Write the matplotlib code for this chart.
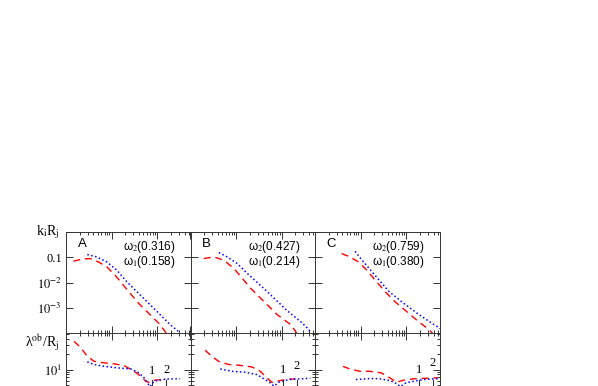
import numpy as np
import matplotlib.pyplot as plt
from matplotlib.ticker import LogLocator, NullFormatter

plt.rcParams['font.family'] = 'Liberation Sans'
plt.rcParams['mathtext.fontset'] = 'stix'

panels = ['A', 'B', 'C']
omega1 = [0.158, 0.214, 0.380]
omega2 = [0.316, 0.427, 0.759]

# upper row: k_i R_j   (red dashed = omega1 mode, blue dotted = omega2 mode)
ki_red_x_A = [0.00145, 0.00221, 0.00336, 0.00513, 0.00785, 0.0119, 0.0168, 0.0255, 0.0388, 0.0702, 0.116, 0.158]
ki_red_y_A = [0.0697, 0.0835, 0.089, 0.0654, 0.0417, 0.0197, 0.0093, 0.00377, 0.00153, 5.3e-4, 2.15e-4, 1.0e-4]
ki_blue_x_A = [0.00294, 0.00473, 0.00785, 0.0130, 0.0216, 0.0358, 0.0545, 0.0984, 0.193, 0.271, 0.316]
ki_blue_y_A = [0.128, 0.103, 0.0654, 0.0309, 0.0107, 0.00436, 0.00206, 7.2e-4, 2.15e-4, 1.3e-4, 1.0e-4]

ki_red_x_B = [0.00196, 0.00325, 0.0054, 0.00895, 0.0137, 0.0208, 0.0345, 0.0804, 0.158, 0.214]
ki_red_y_B = [0.089, 0.103, 0.0763, 0.0361, 0.0146, 0.00593, 0.0024, 5.3e-4, 2.15e-4, 1.0e-4]
ki_blue_x_B = [0.00419, 0.00641, 0.0106, 0.0176, 0.0317, 0.0573, 0.133, 0.262, 0.398, 0.427]
ki_blue_y_B = [0.153, 0.103, 0.0566, 0.023, 0.00873, 0.00324, 7.6e-4, 2.8e-4, 1.37e-4, 1.0e-4]

ki_red_x_C = [0.00386, 0.00588, 0.00895, 0.0137, 0.0208, 0.0345, 0.0573, 0.1035, 0.172, 0.285, 0.38]
ki_red_y_C = [0.14, 0.103, 0.0654, 0.0309, 0.0125, 0.00436, 0.00172, 7.0e-4, 3.2e-4, 1.58e-4, 1.0e-4]
ki_blue_x_C = [0.00757, 0.0101, 0.0154, 0.0255, 0.0423, 0.083, 0.193, 0.378, 0.53, 0.759]
ki_blue_y_C = [0.172, 0.089, 0.0361, 0.0125, 0.00436, 0.00164, 5.3e-4, 2.36e-4, 1.6e-4, 1.0e-4]

# lower row: lambda^ob / R_j
lam_red_x_A = [0.0015, 0.0021, 0.00294, 0.00412, 0.00684, 0.0114, 0.0188, 0.0313, 0.0439, 0.0565, 0.0667, 0.0859, 0.121, 0.158]
lam_red_y_A = [36.3, 27.3, 18.3, 14.6, 13.6, 13.0, 12.0, 9.25, 7.36, 5.86, 5.6, 6.14, 6.34, 6.55]
lam_blue_x_A = [0.00294, 0.00412, 0.00684, 0.0134, 0.0264, 0.0402, 0.0518, 0.0612, 0.07, 0.0859, 0.158, 0.316]
lam_blue_y_A = [14.2, 12.6, 11.6, 10.8, 10.3, 8.6, 6.86, 5.45, 4.6, 5.9, 6.5, 6.6]

lam_red_x_B = [0.0021, 0.00294, 0.00412, 0.00684, 0.0114, 0.0222, 0.034, 0.0475, 0.0612, 0.0789, 0.121, 0.2]
lam_red_y_B = [24.1, 18.3, 14.6, 12.6, 12.2, 11.3, 9.25, 6.86, 5.6, 5.86, 6.34, 6.55]
lam_blue_x_B = [0.0045, 0.0081, 0.0159, 0.0286, 0.0439, 0.0565, 0.068, 0.0859, 0.1425, 0.331, 0.427]
lam_blue_y_B = [10.3, 9.25, 8.85, 7.96, 6.34, 5.45, 4.7, 5.6, 6.34, 6.63, 6.7]

lam_red_x_C = [0.00412, 0.0058, 0.0096, 0.0159, 0.0286, 0.0439, 0.0612, 0.0859, 0.1425, 0.279, 0.505]
lam_red_y_C = [11.6, 10.3, 9.25, 9.25, 8.6, 6.86, 5.6, 6.14, 6.55, 6.73, 6.86]
lam_blue_x_C = [0.0079, 0.0159, 0.0251, 0.0439, 0.0612, 0.075, 0.1, 0.236, 0.505]
lam_blue_y_C = [6.34, 6.63, 6.63, 6.05, 5.28, 4.6, 5.5, 6.34, 6.63]

# markers "1" and "2" in the lower row
mark_x_A = [0.079, 0.158]
mark_x_B = [0.107, 0.214]
mark_x_C = [0.19, 0.38]
mark_lab_y_A = [9.3, 10.0]
mark_lab_y_B = [10.0, 11.6]
mark_lab_y_C = [10.0, 13.6]

ki_red = [(ki_red_x_A, ki_red_y_A), (ki_red_x_B, ki_red_y_B), (ki_red_x_C, ki_red_y_C)]
ki_blue = [(ki_blue_x_A, ki_blue_y_A), (ki_blue_x_B, ki_blue_y_B), (ki_blue_x_C, ki_blue_y_C)]
lam_red = [(lam_red_x_A, lam_red_y_A), (lam_red_x_B, lam_red_y_B), (lam_red_x_C, lam_red_y_C)]
lam_blue = [(lam_blue_x_A, lam_blue_y_A), (lam_blue_x_B, lam_blue_y_B), (lam_blue_x_C, lam_blue_y_C)]
marks = [(mark_x_A, mark_lab_y_A), (mark_x_B, mark_lab_y_B), (mark_x_C, mark_lab_y_C)]

fig = plt.figure(figsize=(5.98, 3.86), dpi=100)

W, H = 598.0, 386.0
left0, pw, ph = 66.0, 124.5, 101.0
top_y = 232.0
xlim = (1e-3, 0.54)
serif = 'Liberation Serif'


def style(ax):
    ax.set_xscale('log')
    ax.set_yscale('log')
    ax.set_xlim(*xlim)
    ax.tick_params(which='both', direction='in', top=True, right=True,
                   labelbottom=False, labelleft=False, width=0.7, color='#333333')
    ax.tick_params(which='major', length=5)
    ax.tick_params(which='minor', length=2.5)
    ax.xaxis.set_minor_locator(LogLocator(subs=np.arange(2, 10)))
    ax.yaxis.set_minor_locator(LogLocator(subs=np.arange(2, 10)))
    ax.xaxis.set_minor_formatter(NullFormatter())
    ax.yaxis.set_minor_formatter(NullFormatter())
    for s in ax.spines.values():
        s.set_linewidth(0.7)
        s.set_color('#333333')


for i in range(3):
    x0 = left0 + i * pw
    ax1 = fig.add_axes([x0 / W, (H - top_y - ph) / H, pw / W, ph / H])
    ax2 = fig.add_axes([x0 / W, (H - top_y - 2 * ph) / H, pw / W, ph / H])
    style(ax1)
    style(ax2)

    ax1.set_ylim(1e-4, 1)
    ax1.set_yticks([1e-4, 1e-3, 1e-2, 0.1, 1])
    ax2.set_ylim(0.53, 53)
    ax2.set_yticks([1, 10])

    ax1.plot(*ki_red[i], color='red', lw=1.0, ls=(0, (5, 3.5)))
    ax1.plot(*ki_blue[i], color='blue', lw=1.1, ls=(0, (1, 1.6)))
    ax2.plot(*lam_red[i], color='red', lw=1.0, ls=(0, (5, 3.5)))
    ax2.plot(*lam_blue[i], color='blue', lw=1.1, ls=(0, (1, 1.6)))

    mx, my = marks[i]
    for j in range(2):
        ax2.plot([mx[j], mx[j]], [6.3, 2.0], color='#333333', lw=0.8)
        ax2.text(mx[j], my[j], str(j + 1), ha='center', va='center',
                 fontsize=9, family=serif)

    ax1.text(0.13, 0.885, panels[i], transform=ax1.transAxes, ha='center',
             va='center', fontsize=9.5)
    ax1.text(0.88, 0.855, 'ω$_2$(%.3f)' % omega2[i], transform=ax1.transAxes,
             ha='right', va='center', fontsize=8.5)
    ax1.text(0.88, 0.70, 'ω$_1$(%.3f)' % omega1[i], transform=ax1.transAxes,
             ha='right', va='center', fontsize=8.5)

    if i == 0:
        ax1.tick_params(labelleft=True, pad=3)
        ax1.set_yticklabels(['', r'$10^{-3}$', r'$10^{-2}$', '0.1', ''],
                            fontsize=9, family=serif)
        ax2.tick_params(labelleft=True, pad=3)
        ax2.set_yticklabels(['', r'$10^{1}$'], fontsize=9, family=serif)
        ax1.text(-0.05, 1.0, r'k$_{\rm i}$R$_{\rm j}$', transform=ax1.transAxes,
                 ha='right', va='center', fontsize=10, family=serif)
        ax2.text(-0.05, 0.905, r'λ$^{\rm ob}$/R$_{\rm j}$', transform=ax2.transAxes,
                 ha='right', va='center', fontsize=10, family=serif)

fig.savefig('out.png', dpi=100)
